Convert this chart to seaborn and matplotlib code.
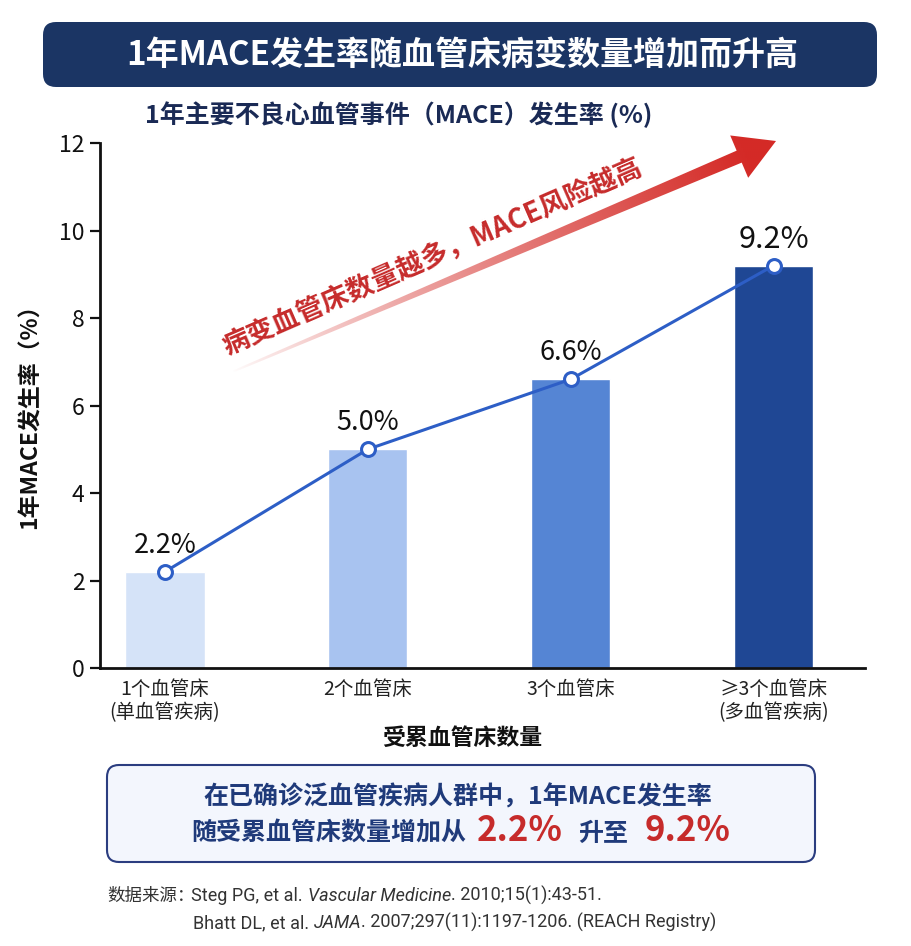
import numpy as np
import pandas as pd
import matplotlib
matplotlib.use("Agg")
import matplotlib.pyplot as plt
import seaborn as sns
from matplotlib.patches import FancyBboxPatch, Polygon

# ---------------- data ----------------
categories = ["1个血管床\n(单血管疾病)", "2个血管床", "3个血管床", "≥3个血管床\n(多血管疾病)"]
rates = [2.2, 5.0, 6.6, 9.2]
rate_labels = ["2.2%", "5.0%", "6.6%", "9.2%"]
y_ticks = [0, 2, 4, 6, 8, 10, 12]

title_text = "1年MACE发生率随血管床病变数量增加而升高"
subtitle_text = "1年主要不良心血管事件（MACE）发生率 (%)"
ylabel_text = "1年MACE发生率（%）"
xlabel_text = "受累血管床数量"
arrow_text = "病变血管床数量越多，MACE风险越高"
summary_line1 = "在已确诊泛血管疾病人群中，1年MACE发生率"
summary_line2 = ["随受累血管床数量增加从", "2.2%", "升至", "9.2%"]
source_line1 = ["数据来源：", "Steg PG, et al. ", "Vascular Medicine", ". 2010;15(1):43-51."]
source_line2 = ["Bhatt DL, et al. ", "JAMA", ". 2007;297(11):1197-1206. (REACH Registry)"]

bar_colors = ["#d5e3f8", "#a8c3f0", "#5585d4", "#1f4794"]
line_color = "#2d5ec6"
navy = "#1b3564"
red = "#c62b2b"

# ---------------- style ----------------
sns.set_theme(style="white")
CJK = ["Noto Sans CJK SC", "DejaVu Sans"]
plt.rcParams["font.family"] = CJK
plt.rcParams["axes.unicode_minus"] = False

fig = plt.figure(figsize=(9.12, 9.46), dpi=100)
W, H = 912, 946
ax = fig.add_axes([100 / W, 1 - 668 / H, 765 / W, 525 / H])

df = pd.DataFrame({"cat": categories, "rate": rates})
sns.barplot(data=df, x="cat", y="rate", hue="cat", palette=bar_colors,
            legend=False, width=0.39, saturation=1, ax=ax, zorder=2)

xpos = np.arange(len(categories))
ax.plot(xpos, rates, color=line_color, lw=2.2, marker="o", ms=10,
        mfc="white", mec=line_color, mew=2.2, zorder=5)

for i, (v, lab) in enumerate(zip(rates, rate_labels)):
    fs = 22 if i == len(rates) - 1 else 19.5
    ax.annotate(lab, (i, v), xytext=(0, 19), textcoords="offset points",
                ha="center", va="center", fontsize=fs, color="#111111",
                fontweight="medium", zorder=6)

ax.set_xlim(-0.32, 3.45)
ax.set_ylim(0, 12)
ax.set_yticks(y_ticks)
ax.set_yticklabels([str(t) for t in y_ticks])
for s in ["top", "right"]:
    ax.spines[s].set_visible(False)
for s in ["left", "bottom"]:
    ax.spines[s].set_color("#111111")
    ax.spines[s].set_linewidth(2)
ax.tick_params(axis="y", length=7, width=1.6, colors="#111111", labelsize=16.5,
               pad=4, left=True)
ax.tick_params(axis="x", length=0, labelsize=14, pad=8, colors="#222222")
for t in ax.get_xticklabels():
    t.set_linespacing(1.15)
ax.set_ylabel(ylabel_text, fontsize=16.5, fontweight="bold", color="#111111")
ax.yaxis.set_label_coords(-0.076, 0.49)
ax.set_xlabel(xlabel_text, fontsize=16.5, fontweight="bold", color="#111111")
ax.xaxis.set_label_coords(0.473, -0.112)
ax.grid(False)

# ---------------- overlay in pixel coords ----------------
ov = fig.add_axes([0, 0, 1, 1], zorder=10)
ov.set_xlim(0, W)
ov.set_ylim(H, 0)
ov.axis("off")
ov.patch.set_alpha(0)

# title banner
ov.add_patch(FancyBboxPatch((43, 22), 834, 65,
                            boxstyle="round,pad=0,rounding_size=13",
                            fc=navy, ec="none"))
ov.text(462, 55, title_text, ha="center", va="center", color="white",
        fontsize=23.8, fontweight="bold")

# subtitle
ov.text(145, 115, subtitle_text, ha="left", va="center", color="#1a2a55",
        fontsize=18, fontweight="bold")

# gradient arrow
tail = np.array([232.0, 372.0])
tip = np.array([776.0, 141.0])
d = tip - tail
L = np.hypot(*d)
u = d / L
n = np.array([u[1], -u[0]])  # perpendicular
head_len, head_w = 40, 23
base = tip - u * head_len
w_tail, w_base = 1.0, 6.5
pts = [tail + n * w_tail, base + n * w_base, base + n * head_w, tip,
       base - n * head_w, base - n * w_base, tail - n * w_tail]
poly = Polygon(pts, closed=True, fc="none", ec="none")
ov.add_patch(poly)
gx = np.linspace(0, W, 456)
gy = np.linspace(0, H, 473)
GX, GY = np.meshgrid(gx, gy)
tpos = ((GX - tail[0]) * u[0] + (GY - tail[1]) * u[1]) / L
tpos = np.clip(tpos, 0, 1)
rgba = np.zeros(GX.shape + (4,))
rr, gg, bb = matplotlib.colors.to_rgb("#d42a26")
rgba[..., 0] = rr
rgba[..., 1] = gg
rgba[..., 2] = bb
rgba[..., 3] = np.clip(tpos ** 0.8 * 1.05, 0, 1)
im = ov.imshow(rgba, extent=(0, W, H, 0), origin="upper", zorder=3,
               interpolation="bilinear", aspect="auto")
im.set_clip_path(poly)
ov.set_xlim(0, W)
ov.set_ylim(H, 0)

ang = np.degrees(np.arctan2(-d[1], d[0]))
ov.text(432, 257, arrow_text, rotation=ang + 0.5, rotation_mode="anchor",
        ha="center", va="center", color=red, fontsize=19.5, fontweight="bold")

# summary box
ov.add_patch(FancyBboxPatch((107, 765), 708, 97,
                            boxstyle="round,pad=0,rounding_size=12",
                            fc="#f3f6fd", ec="#2b3d80", lw=1.5))
ov.text(458, 797, summary_line1, ha="center", va="center", color="#1f3a7a",
        fontsize=18, fontweight="bold")

fig.canvas.draw()
renderer = fig.canvas.get_renderer()


def seq_text(parts, x0, y, center=False):
    """parts: list of (text, kwargs, gap_after_px)"""
    arts = []
    for txt, kw, gap in parts:
        a = ov.text(0, y, txt, ha="left", va="baseline", **kw)
        arts.append((a, gap))
    widths = [a.get_window_extent(renderer).width for a, _ in arts]
    total = sum(widths) + sum(g for _, g in arts[:-1])
    x = x0 - total / 2 if center else x0
    for (a, gap), w in zip(arts, widths):
        a.set_x(x)
        x += w + gap


navy_kw = dict(color="#1f3a7a", fontsize=18, fontweight="bold")
red_kw = dict(color=red, fontsize=25, fontweight="bold")
seq_text([(summary_line2[0], navy_kw, 10),
          (summary_line2[1], red_kw, 16),
          (summary_line2[2], navy_kw, 16),
          (summary_line2[3], red_kw, 0)], 461, 841, center=True)

LAT = ["Roboto", "Noto Sans CJK SC", "DejaVu Sans"]
src_c = dict(color="#333333", fontsize=12.6)
lat_n = dict(color="#333333", fontsize=13, family=LAT)
lat_i = dict(color="#333333", fontsize=13, family=LAT, style="italic")
seq_text([(source_line1[0], src_c, -3),
          (source_line1[1], lat_n, 0),
          (source_line1[2], lat_i, 0),
          (source_line1[3], lat_n, 0)], 107, 901)
seq_text([(source_line2[0], lat_n, 0),
          (source_line2[1], lat_i, 0),
          (source_line2[2], lat_n, 0)], 193, 928)

fig.savefig("out.png", dpi=100)
